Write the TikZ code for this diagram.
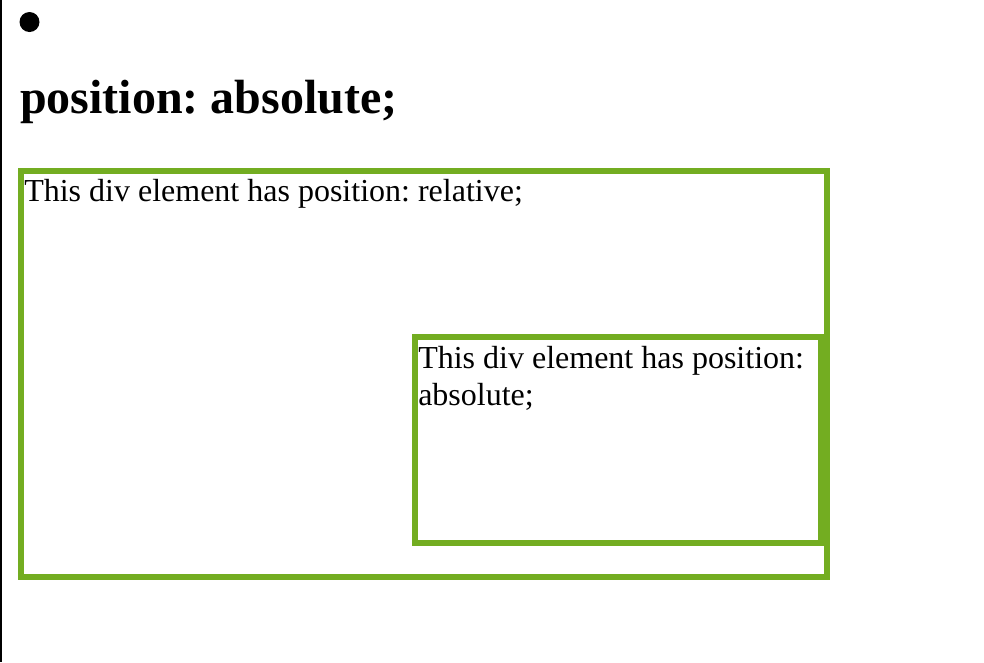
\documentclass[tikz,border=0pt]{standalone}
\usepackage{fontspec}
\setmainfont{Liberation Serif}
\definecolor{divgreen}{HTML}{73AD21}
\frenchspacing
\begin{document}
\begin{tikzpicture}[x=0.75pt,y=-0.75pt,
  divbox/.style={draw=divgreen,line width=4.5pt},
  bodytext/.style={anchor=base west,inner sep=0pt,font=\fontsize{24}{27.6}\selectfont},
  headtext/.style={anchor=base west,inner sep=0pt,font=\fontsize{36}{41}\selectfont\bfseries}]
\useasboundingbox (0,0) rectangle (984,662);
\fill[white] (0,0) rectangle (984,662);
% left page edge
\fill[black] (0,0) rectangle (2,662);
% bullet
\fill[black] (29.5,22) circle[radius=10];
% heading
\node[headtext] (head) at (20,113) {position: absolute;};
% relative box
\draw[divbox] (21,171) rectangle (827,577);
\node[bodytext] (reltext) at (24,201) {This div element has position: relative;};
% absolute box
\draw[divbox] (415,337) rectangle (821,543);
\node[bodytext] (abstext1) at (418,368) {This div element has position:};
\node[bodytext] (abstext2) at (418,405) {absolute;};
\end{tikzpicture}
\end{document}
